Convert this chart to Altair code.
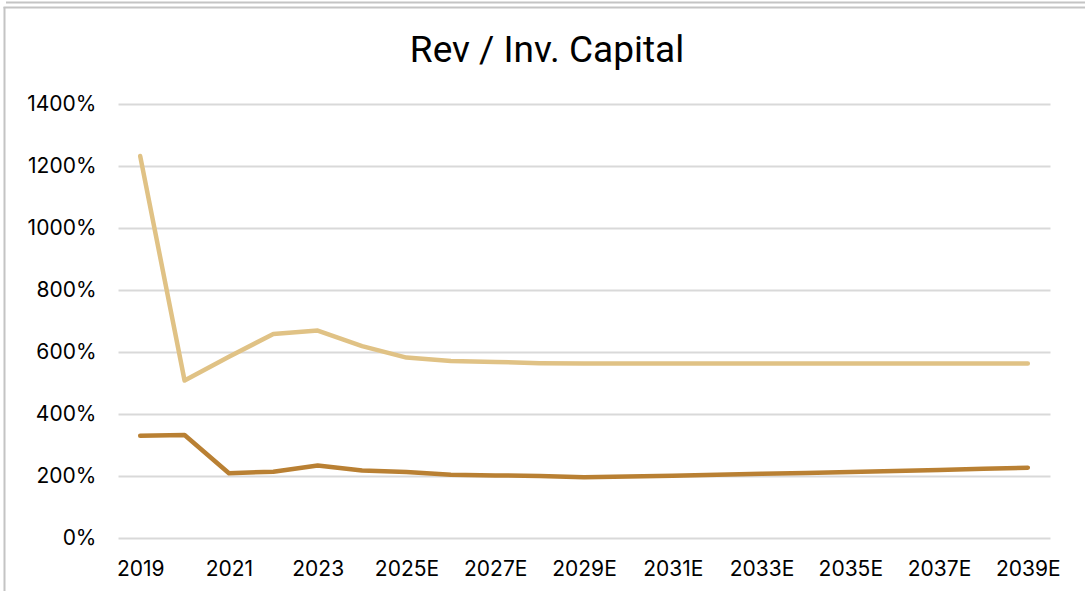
import altair as alt
import pandas as pd

years = ["2019", "2020", "2021", "2022", "2023", "2024", "2025E", "2026E", "2027E",
         "2028E", "2029E", "2030E", "2031E", "2032E", "2033E", "2034E", "2035E",
         "2036E", "2037E", "2038E", "2039E"]
light_vals = [12.32, 5.08, 5.85, 6.58, 6.69, 6.19, 5.82, 5.71, 5.68, 5.64, 5.63, 5.63,
              5.63, 5.63, 5.63, 5.63, 5.63, 5.63, 5.63, 5.63, 5.63]
dark_vals = [3.30, 3.32, 2.09, 2.14, 2.34, 2.18, 2.13, 2.04, 2.02, 2.00, 1.96, 1.98,
             2.01, 2.04, 2.07, 2.10, 2.13, 2.16, 2.19, 2.23, 2.27]
series_names = ["Series 1", "Series 2"]
series_colors = ["#E0C285", "#B98033"]
y_ticks = [0, 2, 4, 6, 8, 10, 12, 14]
x_label_values = years[::2]
title_text = "Rev / Inv. Capital"

rows = []
for name, vals in zip(series_names, [light_vals, dark_vals]):
    for yr, v in zip(years, vals):
        rows.append({"year": yr, "value": v, "series": name})
df = pd.DataFrame(rows)

FONT = "Inter"

lines = alt.Chart(df).mark_line(strokeWidth=4.5, strokeCap="round", strokeJoin="round").encode(
    x=alt.X("year:O", sort=years, scale=alt.Scale(type="point", padding=0.5),
            axis=alt.Axis(title=None, values=x_label_values, labelAngle=0, ticks=False,
                          domain=False, labelPadding=20, labelFontSize=21,
                          labelColor="#000000", labelFont=FONT, grid=False)),
    y=alt.Y("value:Q", scale=alt.Scale(domain=[0, 14]),
            axis=alt.Axis(title=None, values=y_ticks, format=".0%", ticks=False,
                          domain=False, labelPadding=22, labelFontSize=21,
                          labelColor="#000000", labelFont=FONT,
                          gridColor="#D9D9D9", gridWidth=2)),
    color=alt.Color("series:N", sort=series_names,
                    scale=alt.Scale(domain=series_names, range=series_colors), legend=None),
)

frame_df = pd.DataFrame({"k": [0]})
frame = alt.Chart(frame_df)
top1 = frame.mark_rule(color="#C4C4C4", strokeWidth=2).encode(
    x=alt.value(-112), x2=alt.value(967), y=alt.value(-101.5))
top2 = frame.mark_rule(color="#C4C4C4", strokeWidth=2).encode(
    x=alt.value(-114.5), x2=alt.value(967), y=alt.value(-96.5))
left = frame.mark_rule(color="#C4C4C4", strokeWidth=2).encode(
    x=alt.value(-113.5), y=alt.value(-97), y2=alt.value(487))
title = frame.mark_text(fontSize=37, font="Roboto", color="#000000",
                        align="center", baseline="alphabetic").encode(
    x=alt.value(429), y=alt.value(-42), text=alt.value(title_text))

chart = alt.layer(top1, top2, left, title, lines).properties(
    width=932, height=434,
    autosize=alt.AutoSizeParams(type="none"),
    padding={"left": 118, "top": 104, "right": 35, "bottom": 53},
    background="#FFFFFF",
).configure_view(strokeWidth=0)

chart.save("out.html", embed_options={"renderer": "svg", "actions": False})
